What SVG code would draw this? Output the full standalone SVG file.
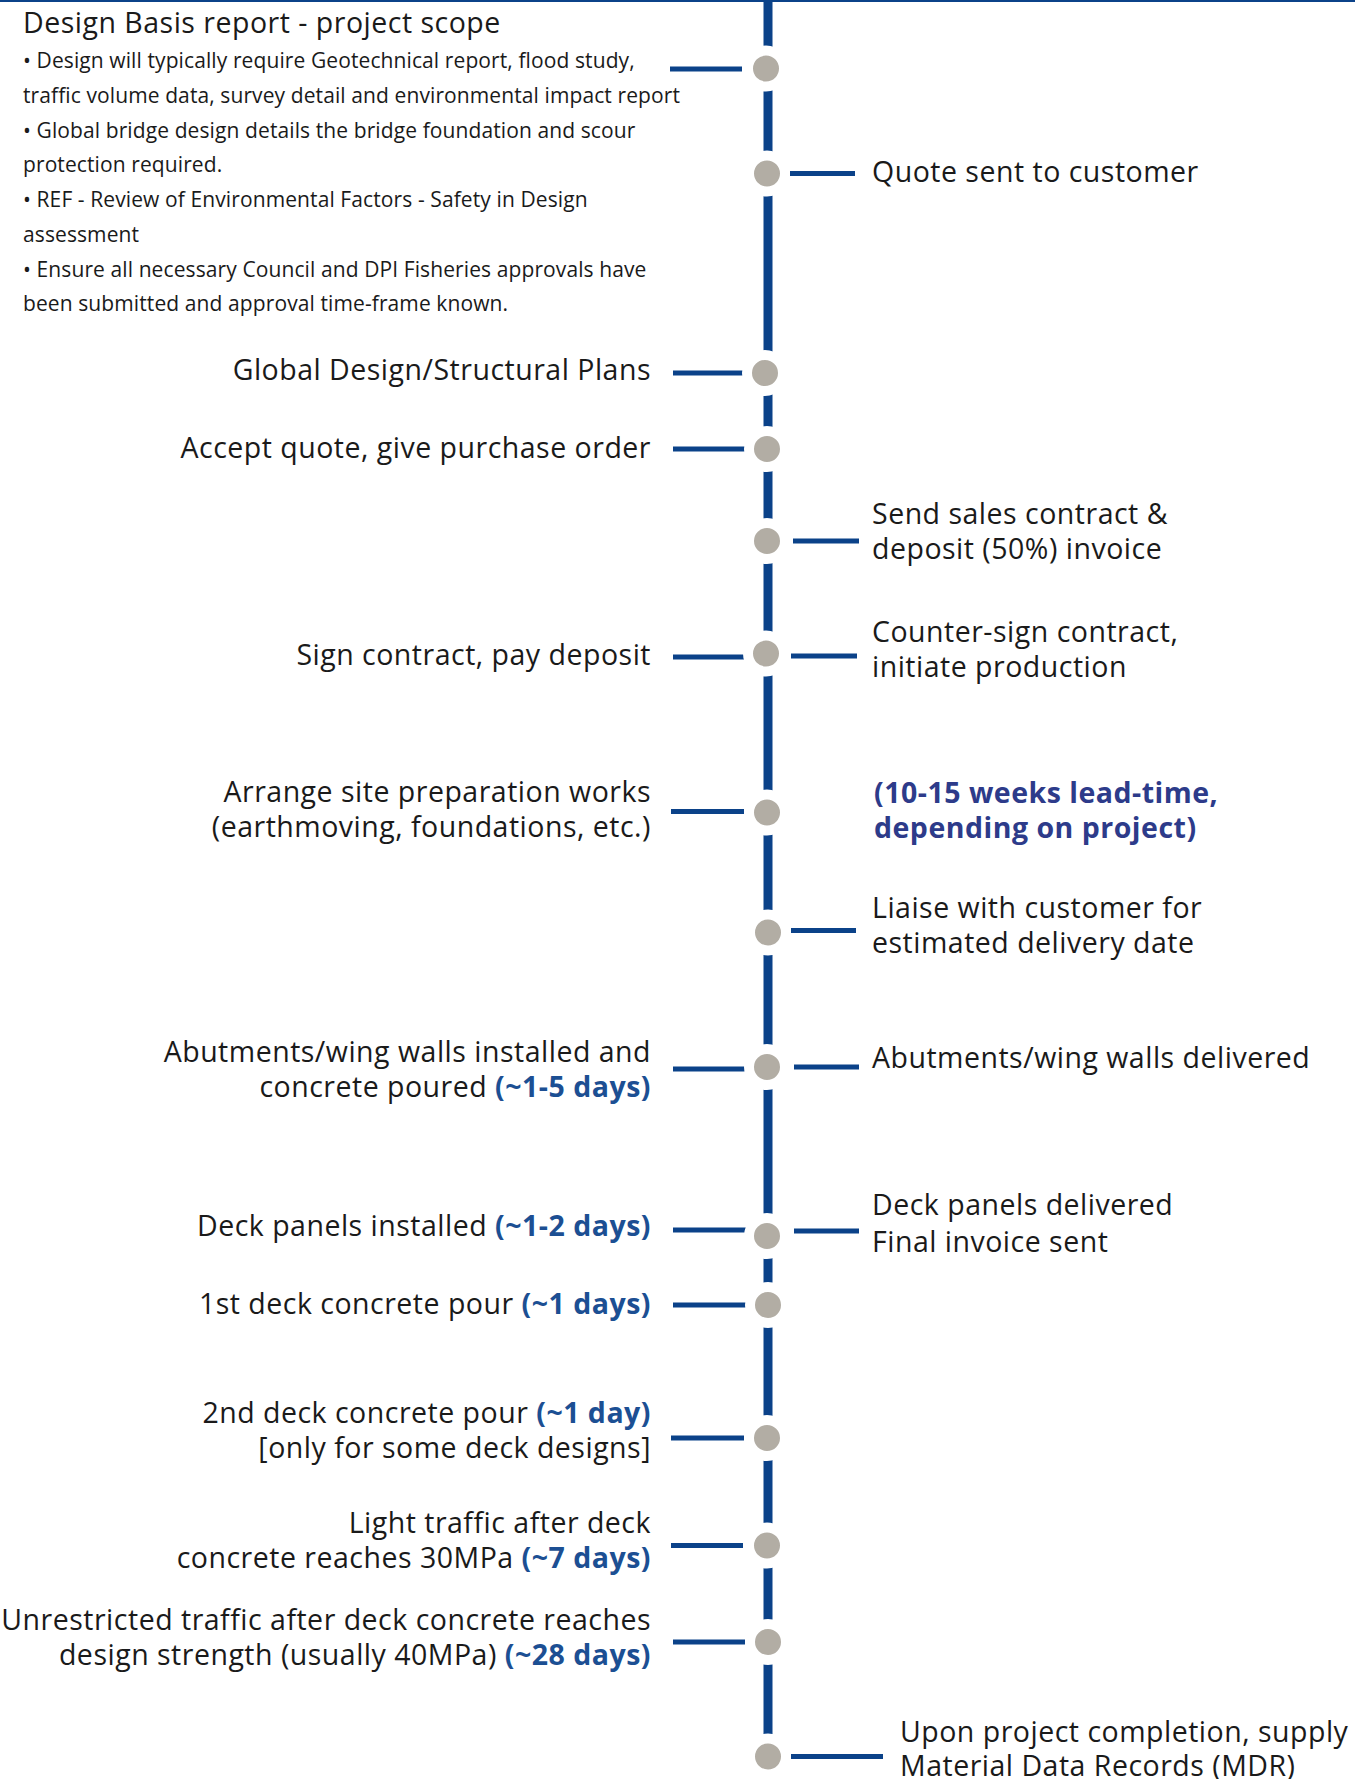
<svg xmlns="http://www.w3.org/2000/svg" width="1355" height="1779" viewBox="0 0 1355 1779">
<style>
.t{font-family:"Open Sans","Noto Sans","Liberation Sans",sans-serif;font-size:28.5px;letter-spacing:0.5px;fill:#1a1a1a}
.s{font-family:"Open Sans","Noto Sans","Liberation Sans",sans-serif;font-size:21px;letter-spacing:0.1px;fill:#1a1a1a}
.l{text-anchor:end}
.b{font-weight:700;fill:#1c4f93}
.p{font-weight:700;fill:#2d3b8a}
.c{stroke:#0b4289;stroke-width:5;fill:none}
.n{fill:#b2ada4;stroke:#ffffff;stroke-width:10}
</style>
<rect width="1355" height="1779" fill="#ffffff"/>
<g id="connectors">
<line x1="0" y1="1" x2="1355" y2="1" stroke="#0b4289" stroke-width="2"/>
<line x1="768" y1="0" x2="768" y2="1779" stroke="#0b4289" stroke-width="9"/>
<line class="c" x1="670" y1="69" x2="742" y2="69"/>
<line class="c" x1="790" y1="173.5" x2="855" y2="173.5"/>
<line class="c" x1="673" y1="373" x2="744" y2="373"/>
<line class="c" x1="673" y1="449" x2="745" y2="449"/>
<line class="c" x1="793" y1="541" x2="859" y2="541"/>
<line class="c" x1="673" y1="657" x2="745" y2="657"/>
<line class="c" x1="791" y1="656" x2="857" y2="656"/>
<line class="c" x1="671" y1="811.5" x2="744" y2="811.5"/>
<line class="c" x1="791" y1="930.5" x2="856" y2="930.5"/>
<line class="c" x1="673" y1="1069" x2="747" y2="1069"/>
<line class="c" x1="794" y1="1067" x2="859" y2="1067"/>
<line class="c" x1="673" y1="1230" x2="747" y2="1230"/>
<line class="c" x1="794" y1="1231" x2="859" y2="1231"/>
<line class="c" x1="673" y1="1305" x2="747" y2="1305"/>
<line class="c" x1="671" y1="1438" x2="744" y2="1438"/>
<line class="c" x1="671" y1="1545.5" x2="743" y2="1545.5"/>
<line class="c" x1="673" y1="1642" x2="745" y2="1642"/>
<line class="c" x1="791" y1="1756.5" x2="883" y2="1756.5"/>
</g>
<g id="node-design-basis">
<circle class="n" cx="766" cy="68.5" r="18"/>
<text class="t" x="23" y="33">Design Basis report - project scope</text>
<text class="s" x="23" y="68.3">• Design will typically require Geotechnical report, flood study,</text>
<text class="s" x="23" y="103">traffic volume data, survey detail and environmental impact report</text>
<text class="s" x="23" y="137.7">• Global bridge design details the bridge foundation and scour</text>
<text class="s" x="23" y="172.4">protection required.</text>
<text class="s" x="23" y="207">• REF - Review of Environmental Factors - Safety in Design</text>
<text class="s" x="23" y="241.8">assessment</text>
<text class="s" x="23" y="276.5">• Ensure all necessary Council and DPI Fisheries approvals have</text>
<text class="s" x="23" y="311.2">been submitted and approval time-frame known.</text>
</g>
<g id="node-quote">
<circle class="n" cx="767" cy="173.5" r="18"/>
<text class="t" x="872" y="181.7">Quote sent to customer</text>
</g>
<g id="node-global-design">
<circle class="n" cx="765" cy="373" r="18"/>
<text class="t l" x="651" y="380">Global Design/Structural Plans</text>
</g>
<g id="node-accept">
<circle class="n" cx="767" cy="449" r="18"/>
<text class="t l" x="651" y="458">Accept quote, give purchase order</text>
</g>
<g id="node-send-sales">
<circle class="n" cx="767" cy="541" r="18"/>
<text class="t" x="872" y="524">Send sales contract &amp;</text>
<text class="t" x="872" y="559">deposit (50%) invoice</text>
</g>
<g id="node-sign-contract">
<circle class="n" cx="766" cy="653.5" r="18"/>
<text class="t l" x="651" y="665">Sign contract, pay deposit</text>
<text class="t" x="872" y="641.7">Counter-sign contract,</text>
<text class="t" x="872" y="676.5">initiate production</text>
</g>
<g id="node-site-prep">
<circle class="n" cx="767" cy="812.5" r="18"/>
<text class="t l" x="651" y="801.7">Arrange site preparation works</text>
<text class="t l" x="651" y="836.7">(earthmoving, foundations, etc.)</text>
<text class="t p" x="874" y="803">(10-15 weeks lead-time,</text>
<text class="t p" x="874" y="838">depending on project)</text>
</g>
<g id="node-liaise">
<circle class="n" cx="768" cy="932.5" r="18"/>
<text class="t" x="872" y="918">Liaise with customer for</text>
<text class="t" x="872" y="953">estimated delivery date</text>
</g>
<g id="node-abutments">
<circle class="n" cx="767" cy="1067" r="18"/>
<text class="t l" x="651" y="1061.7">Abutments/wing walls installed and</text>
<text class="t l" x="651" y="1096.7">concrete poured <tspan class="b">(~1-5 days)</tspan></text>
<text class="t" x="872" y="1068.3">Abutments/wing walls delivered</text>
</g>
<g id="node-deck-panels">
<circle class="n" cx="767" cy="1236" r="18"/>
<text class="t l" x="651" y="1235.5">Deck panels installed <tspan class="b">(~1-2 days)</tspan></text>
<text class="t" x="872" y="1215">Deck panels delivered</text>
<text class="t" x="872" y="1251.5">Final invoice sent</text>
</g>
<g id="node-first-pour">
<circle class="n" cx="768" cy="1305" r="18"/>
<text class="t l" x="651" y="1314">1st deck concrete pour <tspan class="b">(~1 days)</tspan></text>
</g>
<g id="node-second-pour">
<circle class="n" cx="767" cy="1438" r="18"/>
<text class="t l" x="651" y="1423">2nd deck concrete pour <tspan class="b">(~1 day)</tspan></text>
<text class="t l" x="651" y="1457.5">[only for some deck designs]</text>
</g>
<g id="node-light-traffic">
<circle class="n" cx="767" cy="1545.5" r="18"/>
<text class="t l" x="651" y="1533.3">Light traffic after deck</text>
<text class="t l" x="651" y="1568.3">concrete reaches 30MPa <tspan class="b">(~7 days)</tspan></text>
</g>
<g id="node-unrestricted">
<circle class="n" cx="768" cy="1642" r="18"/>
<text class="t l" x="651" y="1630">Unrestricted traffic after deck concrete reaches</text>
<text class="t l" x="651" y="1665">design strength (usually 40MPa) <tspan class="b">(~28 days)</tspan></text>
</g>
<g id="node-completion">
<circle class="n" cx="768" cy="1756.5" r="18"/>
<text class="t" x="900" y="1741.7">Upon project completion, supply</text>
<text class="t" x="900" y="1775.5">Material Data Records (MDR)</text>
</g>
</svg>
